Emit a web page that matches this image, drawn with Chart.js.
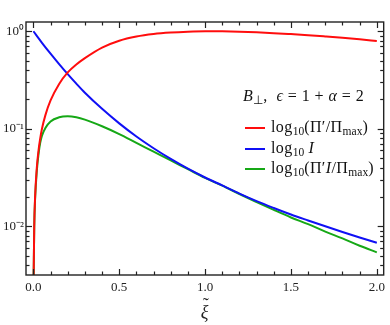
<!DOCTYPE html>
<html>
<head>
<meta charset="utf-8">
<script src="https://cdn.jsdelivr.net/npm/chart.js@4.4.0/dist/chart.umd.min.js"></script>
<style>
  html, body { margin: 0; padding: 0; background: #fff; }
  #wrap { position: relative; width: 390px; height: 325px; }
  #legend { position: absolute; left: 0; top: 0; width: 390px; height: 325px; pointer-events: none;
            font-family: 'Liberation Serif', serif; color: #111; }
  .lt { position: absolute; white-space: nowrap; font-size: 16px; line-height: 18px; letter-spacing: 0.4px; }
  .ls { position: absolute; height: 2px; width: 20px; }
  sub { font-size: 72%; vertical-align: -3px; line-height: 0; letter-spacing: 0; }
  .op { margin: 0 4.5px; }
  #xtitle { position: absolute; font-size: 18px; line-height: 18px; font-style: italic; color: #222; }
  #xtitle .tl { position: absolute; left: 2px; top: -7px; font-style: normal; }
</style>
</head>
<body>
<div id="wrap">
  <canvas id="c" width="390" height="325"></canvas>
  <div id="legend"></div>
</div>
<script>
// values
const xiRed = [0.0015, 0.005, 0.01, 0.02, 0.03, 0.04, 0.05, 0.07, 0.1, 0.15,
               0.2, 0.25, 0.3, 0.4, 0.5, 0.6, 0.7, 0.8, 0.9, 1.0,
               1.1, 1.2, 1.3, 1.4, 1.5, 1.6, 1.7, 1.8, 1.9, 2.0];
const piRatio = [0.003, 0.01, 0.02, 0.04, 0.06, 0.08, 0.1, 0.138, 0.195, 0.288,
                 0.378, 0.456, 0.53, 0.68, 0.80, 0.883, 0.937, 0.97, 0.99, 1.0,
                 0.998, 0.989, 0.975, 0.957, 0.935, 0.912, 0.885, 0.857, 0.826, 0.794];

const xiBlue = [0, 0.05, 0.1, 0.15, 0.2, 0.25, 0.3, 0.4, 0.5, 0.6, 0.7, 0.8,
                0.9, 1.0, 1.1, 1.2, 1.3, 1.4, 1.5, 1.6, 1.7, 1.8, 1.9, 2.0];
const intensity = [1.0, 0.762, 0.589, 0.46, 0.363, 0.29, 0.234, 0.16, 0.1135, 0.0832, 0.0631, 0.049,
                   0.0389, 0.0316, 0.0262, 0.0216, 0.0181, 0.0154, 0.0132, 0.01146, 0.00998, 0.00873, 0.00767, 0.00678];

const xiGreen = [0.0015, 0.005, 0.01, 0.02, 0.03, 0.04, 0.05, 0.07, 0.1, 0.15,
                 0.2, 0.25, 0.3, 0.4, 0.5, 0.6, 0.7, 0.8, 0.9, 1.0,
                 1.1, 1.2, 1.3, 1.4, 1.5, 1.6, 1.7, 1.8, 1.9, 2.0];
const piIntensity = [0.003, 0.0098, 0.019, 0.037, 0.055, 0.072, 0.085, 0.102, 0.119, 0.131,
                     0.134, 0.131, 0.124, 0.106, 0.0881, 0.0716, 0.0582, 0.0473, 0.0385, 0.0313,
                     0.0261, 0.0214, 0.0177, 0.0147, 0.0123, 0.0105, 0.0088, 0.0075, 0.0063, 0.0054];

const xTicks = [0, 0.5, 1.0, 1.5, 2.0];
const yTicks = [0.01, 0.1, 1];
const legendTitle = '<i>B</i><sub>⊥</sub>, &nbsp;<i>ϵ</i><span class="op">=</span>1<span class="op">+</span><i>α</i><span class="op">=</span>2';
const seriesLabels = ['log<sub>10</sub>(Π′/Π<sub>max</sub>)', 'log<sub>10</sub> <i>I</i>', 'log<sub>10</sub>(Π′<i>I</i>/Π<sub>max</sub>)'];
const seriesColors = ['#ff0d0d', '#1010f5', '#16a816'];

const FONT = "'Liberation Serif', serif";
const sup = { '-': '⁻', '0': '⁰', '1': '¹', '2': '²', '3': '³' };

function pts(xs, ys) { return xs.map((x, i) => ({ x: x, y: ys[i] })); }

// inward ticks on all four sides + frame
const framePlugin = {
    id: 'frame',
    afterDraw: function (chart) {
        const ctx = chart.ctx, a = chart.chartArea, xs = chart.scales.x, ys = chart.scales.y;
        ctx.save();
        ctx.strokeStyle = '#222';
        ctx.lineWidth = 1.2;
        const tick = (x1, y1, x2, y2) => { ctx.beginPath(); ctx.moveTo(x1, y1); ctx.lineTo(x2, y2); ctx.stroke(); };
        for (let i = 0; i <= 20; i++) {
            const v = i / 10;
            const px = Math.round(xs.getPixelForValue(v)) + 0.5;
            const len = (i % 5 === 0) ? 6 : 3.5;
            tick(px, a.bottom, px, a.bottom - len);
            tick(px, a.top, px, a.top + len);
        }
        for (let d = -3; d <= 0; d++) {
            for (let m = 1; m <= 9; m++) {
                const v = m * Math.pow(10, d);
                if (v < ys.min || v > ys.max) continue;
                const py = Math.round(ys.getPixelForValue(v)) + 0.5;
                const len = (m === 1) ? 6 : 3.5;
                tick(a.left, py, a.left + len, py);
                tick(a.right, py, a.right - len, py);
            }
        }
        ctx.lineWidth = 1.4;
        ctx.strokeRect(a.left, a.top, a.right - a.left, a.bottom - a.top);
        ctx.restore();
    }
};

const chart = new Chart(document.getElementById('c'), {
    type: 'line',
    data: {
        datasets: [
            { data: pts(xiRed, piRatio), borderColor: seriesColors[0] },
            { data: pts(xiBlue, intensity), borderColor: seriesColors[1] },
            { data: pts(xiGreen, piIntensity), borderColor: seriesColors[2] }
        ]
    },
    options: {
        responsive: false,
        animation: false,
        devicePixelRatio: 1,
        layout: { padding: { top: 22, right: 3, left: 0, bottom: 0 } },
        datasets: { line: { borderWidth: 2, pointRadius: 0, cubicInterpolationMode: 'monotone', fill: false } },
        plugins: { legend: { display: false }, tooltip: { enabled: false } },
        scales: {
            x: {
                type: 'linear', min: -0.043, max: 2.04,
                afterBuildTicks: s => { s.ticks = xTicks.map(v => ({ value: v })); },
                afterFit: s => { s.height = 50; },
                grid: { display: false, drawTicks: false },
                border: { display: false },
                ticks: { padding: 5, color: '#222', font: { family: FONT, size: 13 },
                         callback: v => v.toFixed(1) }
            },
            y: {
                type: 'logarithmic', min: 0.00316, max: 1.245,
                afterBuildTicks: s => { s.ticks = yTicks.map(v => ({ value: v })); },
                afterFit: s => { s.width = 26; },
                grid: { display: false, drawTicks: false },
                border: { display: false },
                ticks: { padding: 2, color: '#222', font: { family: FONT, size: 13 },
                         callback: v => '10' + String(Math.round(Math.log10(v))).split('').map(c => sup[c]).join('') }
            }
        }
    },
    plugins: [framePlugin]
});

// legend inside the plot + x axis title (xi with tilde), like the reference
const leg = document.getElementById('legend');
let html = '<div class="lt" style="left:243px; top:87px">' + legendTitle + '</div>';
seriesLabels.forEach((lab, i) => {
    const cy = 128 + 20.5 * i;
    html += '<div class="ls" style="left:245px; top:' + (cy - 1) + 'px; background:' + seriesColors[i] + '"></div>';
    html += '<div class="lt" style="left:271px; top:' + (cy - 10) + 'px">' + lab + '</div>';
});
const area = chart.chartArea;
const cx = (area.left + area.right) / 2;
html += '<div id="xtitle" style="left:' + (cx - 4) + 'px; top:303px">ξ<span class="tl">˜</span></div>';
leg.innerHTML = html;
</script>
</body>
</html>
